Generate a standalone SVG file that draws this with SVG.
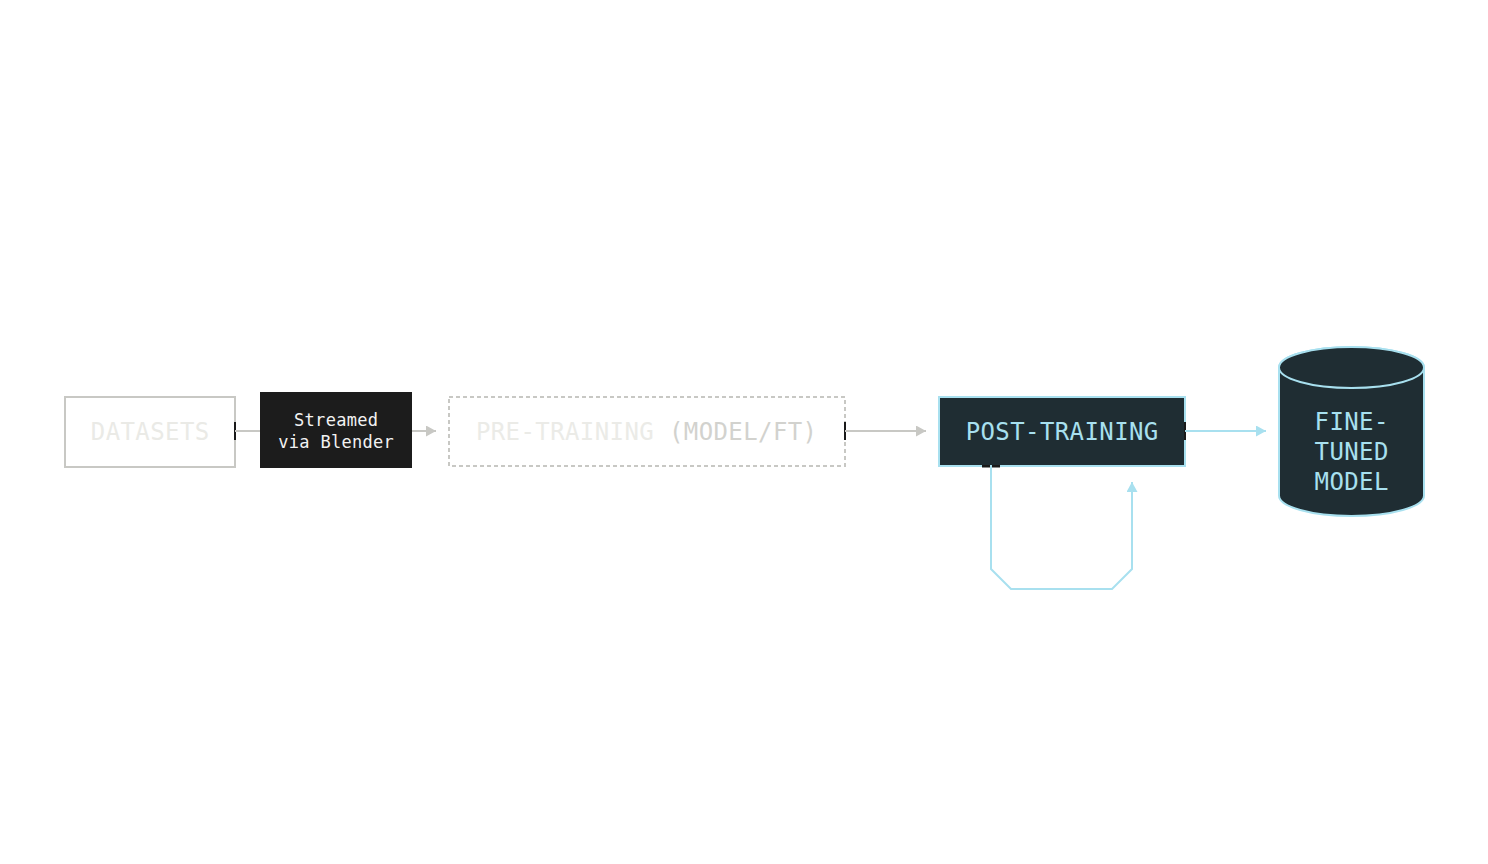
<svg xmlns="http://www.w3.org/2000/svg" width="1488" height="864" viewBox="0 0 1488 864">
<defs>
<style>
.t{font-family:"DejaVu Sans Mono","Liberation Mono",monospace;text-anchor:middle}
.big{font-size:24px;letter-spacing:0.4px}
.sm{font-size:17px;letter-spacing:0.3px}
.gl{stroke:#c8c8c4;stroke-width:2;fill:none}
.bl{stroke:#a8e0ef;stroke-width:2;fill:none}
.tick{fill:#1a1a1a}
</style>
<marker id="ag" viewBox="0 0 10 11" refX="10" refY="5.5" markerWidth="10" markerHeight="11" markerUnits="userSpaceOnUse" orient="auto"><path d="M0,0 L10,5.5 L0,11 Z" fill="#c8c8c4"/></marker>
<marker id="ab" viewBox="0 0 10 11" refX="10" refY="5.5" markerWidth="10" markerHeight="11" markerUnits="userSpaceOnUse" orient="auto"><path d="M0,0 L10,5.5 L0,11 Z" fill="#a8e0ef"/></marker>
</defs>
<rect width="1488" height="864" fill="#ffffff"/>
<g id="datasets">
<rect x="65" y="397" width="170" height="70" fill="#ffffff" stroke="#c8c8c4" stroke-width="2"/>
<text class="t big" x="150.2" y="440" fill="#eaeae6">DATASETS</text>
</g>
<g id="streamed">
<rect x="260" y="392" width="152" height="76" fill="#1c1c1c"/>
<text class="t sm" x="336.2" y="426" fill="#f2f2f2">Streamed</text>
<text class="t sm" x="336.2" y="448" fill="#f2f2f2">via Blender</text>
</g>
<g id="pretraining">
<rect x="449" y="397" width="396" height="69" fill="#ffffff" stroke="#c8c8c4" stroke-width="2" stroke-dasharray="4 3"/>
<text class="t big" x="646.7" y="440"><tspan fill="#ebebe7">PRE-TRAINING </tspan><tspan fill="#d2d2ce">(MODEL/FT)</tspan></text>
</g>
<g id="posttraining">
<rect x="939" y="397" width="246" height="69" fill="#1f2d33" stroke="#a8e0ef" stroke-width="2"/>
<text class="t big" x="1062.2" y="440" fill="#a8e0ef">POST-TRAINING</text>
</g>
<g id="finetuned">
<path d="M1279,367.5 L1279,495.5 A72.5,20.5 0 0 0 1424,495.5 L1424,367.5 A72.5,20.5 0 0 0 1279,367.5 Z" fill="#1f2d33" stroke="#a8e0ef" stroke-width="2"/>
<ellipse cx="1351.5" cy="367.5" rx="72.5" ry="20.5" fill="#1f2d33" stroke="#a8e0ef" stroke-width="2"/>
<text class="t big" x="1351.7" y="430" fill="#a8e0ef">FINE-</text>
<text class="t big" x="1351.7" y="460" fill="#a8e0ef">TUNED</text>
<text class="t big" x="1351.7" y="490" fill="#a8e0ef">MODEL</text>
</g>
<g id="connectors">
<line class="gl" x1="235" y1="431" x2="260" y2="431"/>
<line class="gl" x1="412" y1="431" x2="436" y2="431" marker-end="url(#ag)"/>
<line class="gl" x1="845" y1="431" x2="926" y2="431" marker-end="url(#ag)"/>
<line class="bl" x1="1185" y1="431" x2="1266" y2="431" marker-end="url(#ab)"/>
<path class="bl" d="M991,467 L991,569 L1011,589 L1112,589 L1132,569 L1132,482" marker-end="url(#ab)"/>
<rect class="tick" x="234" y="422" width="2" height="18"/>
<rect class="tick" x="844" y="422" width="2" height="18"/>
<rect class="tick" x="1184" y="422" width="2" height="18"/>
<rect class="tick" x="982" y="465" width="18" height="2.5"/>
<line class="gl" x1="235" y1="431" x2="237" y2="431"/>
<line class="gl" x1="845" y1="431" x2="847" y2="431"/>
<line class="bl" x1="1185" y1="431" x2="1187" y2="431"/>
<line class="bl" x1="991" y1="465" x2="991" y2="468"/>
</g>
</svg>
